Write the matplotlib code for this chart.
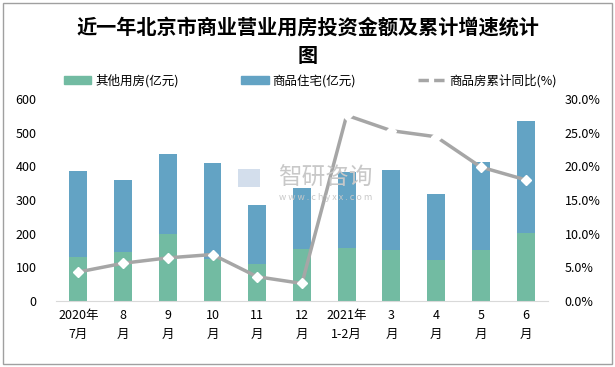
import matplotlib
matplotlib.use("Agg")
import matplotlib.pyplot as plt
from matplotlib.patches import Patch, Rectangle
from matplotlib.lines import Line2D

plt.rcParams['font.family'] = ['Noto Sans CJK SC', 'DejaVu Sans']

categories = ["2020年\n7月", "8\n月", "9\n月", "10\n月", "11\n月", "12\n月",
              "2021年\n1-2月", "3\n月", "4\n月", "5\n月", "6\n月"]
other = [131, 146, 199, 125, 110, 155, 158, 152, 122, 152, 202]
total = [387, 360, 437, 410, 286, 337, 384, 388, 318, 414, 535]
residential = [t - o for t, o in zip(total, other)]
growth = [4.3, 5.6, 6.4, 6.9, 3.6, 2.6, 27.6, 25.3, 24.4, 19.9, 18.0]

green = "#72BBA2"
blue = "#63A3C4"
gray = "#A6A6A6"

fig = plt.figure(figsize=(6.15, 3.67), dpi=100)
ax = fig.add_axes([0.091, 0.18, 0.80, 0.55])
x = list(range(len(categories)))
ax.bar(x, other, width=0.4, color=green, zorder=2)
ax.bar(x, residential, width=0.4, bottom=other, color=blue, zorder=2)
ax.set_xlim(-0.5, 10.5)
ax.set_ylim(0, 600)
ax.set_yticks([0, 100, 200, 300, 400, 500, 600])
ax.set_xticks(x)
ax.set_xticklabels(categories, fontsize=9, linespacing=1.6)
ax.tick_params(axis='both', length=0, labelsize=9)
ax.tick_params(axis='y', pad=14)
ax.tick_params(axis='x', pad=6)
for s in ["top", "right", "left"]:
    ax.spines[s].set_visible(False)
ax.spines["bottom"].set_color("#D9D9D9")

ax2 = ax.twinx()
ax2.plot(x, growth, color=gray, lw=2.5, marker='D', markersize=5,
         markerfacecolor='white', markeredgecolor='white', zorder=3)
ax2.set_ylim(0, 30)
ax2.set_yticks([0, 5, 10, 15, 20, 25, 30])
ax2.set_yticklabels([f"{v:.1f}%" for v in [0, 5, 10, 15, 20, 25, 30]])
ax2.tick_params(axis='y', length=0, labelsize=9, pad=12)
for s in ["top", "right", "left", "bottom"]:
    ax2.spines[s].set_visible(False)

# watermark
fig.text(0.529, 0.515, "智研咨询", fontsize=17, color="#C8C8C8", ha='center', va='center', zorder=0)
fig.text(0.529, 0.462, "w w w . c h y x x . c o m", fontsize=6.5, color="#C8C8C8", ha='center', va='center')
fig.patches.append(Rectangle((0.387, 0.49), 0.035, 0.05, transform=fig.transFigure,
                             facecolor="#C9D6E8", edgecolor='none', alpha=0.8))

fig.text(0.5, 0.925, "近一年北京市商业营业用房投资金额及累计增速统计", fontsize=14.5,
         fontweight='bold', ha='center', va='center')
fig.text(0.5, 0.85, "图", fontsize=14.5, fontweight='bold', ha='center', va='center')

handles = [Patch(color=green, label="其他用房(亿元)"),
           Patch(color=blue, label="商品住宅(亿元)"),
           Line2D([0], [0], color=gray, lw=2.5, ls=(0, (3, 1.5)), label="商品房累计同比(%)")]
fig.legend(handles=handles, loc='center', bbox_to_anchor=(0.505, 0.78), ncol=3,
           frameon=False, fontsize=9, handlelength=2.2, handleheight=0.6,
           columnspacing=5.0, handletextpad=0.3)

fig.patches.append(Rectangle((0.005, 0.008), 0.99, 0.985, transform=fig.transFigure,
                             fill=False, edgecolor="#A0A0A0", lw=1))

fig.savefig("out.png", dpi=100)
